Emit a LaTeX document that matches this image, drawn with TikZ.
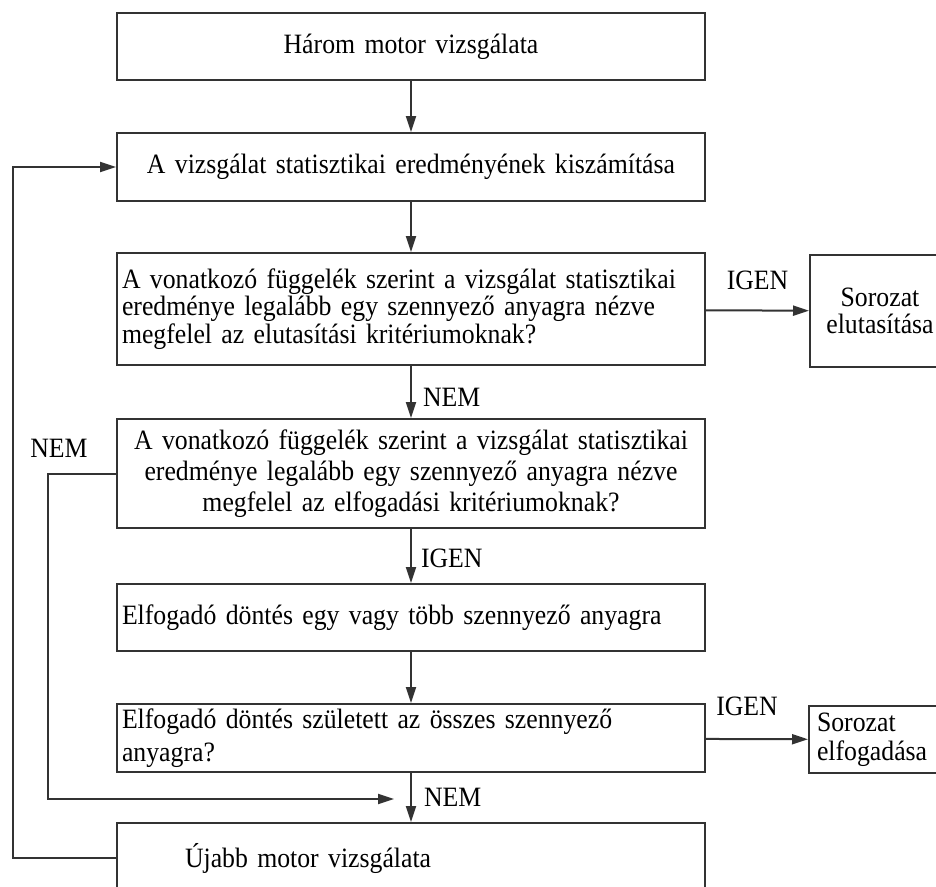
\documentclass[tikz,border=0pt]{standalone}
\usepackage{fontspec}
\setmainfont{Liberation Serif}[FakeStretch=0.92]
\usetikzlibrary{arrows.meta}
\begin{document}
\begin{tikzpicture}[x=1pt,y=-1pt,
  line/.style={draw=black!80, line width=2pt},
  arr/.style={line, -{Triangle[length=16pt,width=10pt]}},
  fs/.style={font=\fontsize{28}{#1}\selectfont},
  box/.style={line, rectangle, minimum width=588pt, inner xsep=5pt,
    inner ysep=0pt, text width=578pt, fs=28},
  side/.style={line, rectangle, inner ysep=0pt, fs=27},
  lbl/.style={fs=28, inner sep=1pt}]
  \useasboundingbox (0,0) rectangle (936,886);
  \clip (0,0) rectangle (936,886);

  % main column
  \node[box, align=center, minimum height=67pt] (b1) at (411,46.5)
    {Három motor vizsgálata};
  \node[box, align=center, minimum height=68pt] (b2) at (411,167)
    {A vizsgálat statisztikai eredményének kiszámítása};
  \node[box, align=left, minimum height=112pt, fs=27.5] (b3) at (411,309)
    {A vonatkozó függelék szerint a vizsgálat statisztikai\\
     eredménye legalább egy szennyező anyagra nézve\\
     megfelel az elutasítási kritériumoknak?};
  \node[box, align=center, minimum height=109pt, fs=31] (b4) at (411,473.5)
    {A vonatkozó függelék szerint a vizsgálat statisztikai\\
     eredménye legalább egy szennyező anyagra nézve\\
     megfelel az elfogadási kritériumoknak?};
  \node[box, align=left, minimum height=67pt] (b5) at (411,617.5)
    {Elfogadó döntés egy vagy több szennyező anyagra};
  \node[box, align=left, minimum height=68pt, fs=33] (b6) at (411,738)
    {Elfogadó döntés született az összes szennyező\\ anyagra?};
  \node[box, align=left, minimum height=70pt, inner xsep=68pt,
    text width=452pt] (b7) at (411,858)
    {Újabb motor vizsgálata};

  % outcome boxes
  \node[side, align=center, text width=126pt, inner xsep=7pt,
    minimum height=112pt] (r1) at (880,311)
    {Sorozat\\ elutasítása};
  \node[side, align=left, text width=125pt, inner xsep=8pt,
    minimum height=67pt, fs=29] (r2) at (879.5,739.5)
    {Sorozat\\ elfogadása};

  % main flow
  \draw[arr] (b1) -- (b2);
  \draw[arr] (b2) -- (b3);
  \draw[arr] (b3) -- node[lbl, above=19pt] {IGEN} (r1);
  \draw[arr] (b3) -- node[lbl, right=10pt, pos=0.6] {NEM} (b4);
  \draw[arr] (b4) -- node[lbl, right=8pt, pos=0.55] {IGEN} (b5);
  \draw[arr] (b5) -- (b6);
  \draw[arr] (b6) -- node[lbl, above=21pt, xshift=-10pt] {IGEN} (r2);
  \draw[arr] (b6) -- node[lbl, right=11pt, pos=0.5] {NEM} (b7);

  % rejection loop back to the next engine
  \coordinate (k) at (48,799);
  \coordinate (m) at (394,799);
  \node[lbl] (nem) at (59,448) {NEM};
  \draw[arr] (b4.west) -| (k) -- (m);

  % repeat loop from a new engine to the calculation
  \coordinate (o) at (13,167);
  \draw[arr] (b7.west) -| (o) -- (b2.west);
\end{tikzpicture}
\end{document}
